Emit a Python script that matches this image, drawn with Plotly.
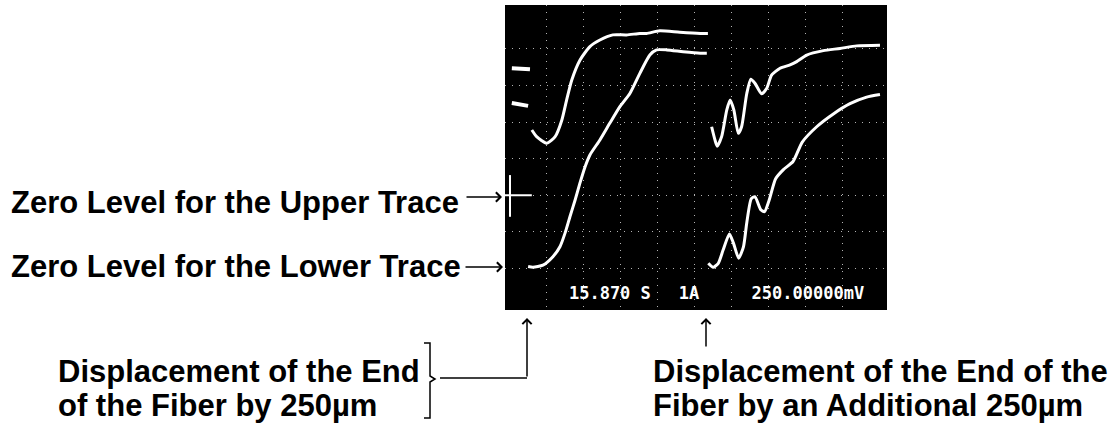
import plotly.graph_objects as go

W, H = 1120, 423

# ---- oscilloscope traces (x in horizontal divisions, y in vertical divisions) ----
UPPER_1_X = [0.59, 0.72, 0.99, 1.22, 1.40, 1.53, 1.67, 1.89, 2.16, 2.43, 2.78, 3.15, 3.51, 3.69, 4.05, 4.59, 5.14, 5.35]
UPPER_1_Y = [4.78, 4.60, 4.42, 4.60, 5.05, 5.60, 6.15, 6.69, 7.06, 7.24, 7.38, 7.38, 7.42, 7.42, 7.49, 7.45, 7.42, 7.42]

LOWER_1_X = [0.49, 0.62, 0.89, 1.16, 1.35, 1.49, 1.62, 1.76, 1.89, 2.03, 2.16, 2.43, 2.70, 2.97, 3.24, 3.51, 3.78, 3.96, 4.24, 4.68, 5.14, 5.32]
LOWER_1_Y = [1.05, 1.03, 1.09, 1.32, 1.59, 1.97, 2.41, 2.87, 3.33, 3.78, 4.10, 4.51, 4.97, 5.42, 5.78, 6.33, 6.83, 6.97, 6.97, 6.92, 6.88, 6.88]

UPPER_2_X = [5.45, 5.54, 5.60, 5.72, 5.86, 5.95, 6.05, 6.17, 6.26, 6.40, 6.51, 6.62, 6.80, 6.94, 7.07, 7.30, 7.57, 7.75, 8.02, 8.47, 8.92, 9.37, 10.0]
UPPER_2_Y = [4.87, 4.51, 4.34, 4.60, 5.33, 5.60, 5.33, 4.69, 4.87, 5.78, 6.17, 6.06, 5.77, 5.92, 6.28, 6.47, 6.56, 6.65, 6.83, 6.95, 7.01, 7.08, 7.10]

LOWER_2_X = [5.36, 5.49, 5.63, 5.76, 5.93, 6.04, 6.18, 6.31, 6.40, 6.52, 6.62, 6.78, 6.88, 7.00, 7.18, 7.39, 7.65, 7.90, 8.29, 8.74, 9.19, 9.64, 10.0]
LOWER_2_Y = [1.14, 1.03, 1.14, 1.50, 1.94, 1.69, 1.28, 1.59, 2.25, 2.90, 2.96, 2.60, 2.55, 2.85, 3.45, 3.70, 3.92, 4.45, 4.87, 5.22, 5.50, 5.68, 5.75]

# channel level markers and ground cross on the left edge of the screen
LEVEL_MARK_1_X = [0.05, 0.54]
LEVEL_MARK_1_Y = [6.47, 6.44]
LEVEL_MARK_2_X = [0.05, 0.49]
LEVEL_MARK_2_Y = [5.52, 5.44]
ZERO_H_X = [-0.30, 0.59]
ZERO_H_Y = [3.00, 3.00]
ZERO_V_X = [0.00, 0.00]
ZERO_V_Y = [2.41, 3.55]

# graticule
GRID_X = [1, 2, 3, 4, 5, 6, 7, 8, 9]
GRID_Y = [1, 2, 3, 4, 5, 6, 7]

# on-screen readout
SCOPE_TEXT = ["15.870 S", "1A", "250.00000mV"]
SCOPE_TEXT_X = [2.70, 4.84, 8.05]
SCOPE_TEXT_Y = [0.27, 0.27, 0.27]

# labels around the screen
LABELS = [
    "Zero Level for the Upper Trace",
    "Zero Level for the Lower Trace",
    "Displacement of the End",
    "of the Fiber by 250\u00b5m",
    "Displacement of the End of the",
    "Fiber by an Additional 250\u00b5m",
]


def px(x):
    return x / W


def py(y):
    return 1 - y / H


fig = go.Figure()

for xs, ys in [(UPPER_1_X, UPPER_1_Y), (LOWER_1_X, LOWER_1_Y),
               (UPPER_2_X, UPPER_2_Y), (LOWER_2_X, LOWER_2_Y)]:
    fig.add_trace(go.Scatter(x=xs, y=ys, mode="lines",
                             line=dict(color="white", width=3, shape="spline", smoothing=0.6),
                             hoverinfo="skip", showlegend=False))

for xs, ys, w in [(LEVEL_MARK_1_X, LEVEL_MARK_1_Y, 4), (LEVEL_MARK_2_X, LEVEL_MARK_2_Y, 4),
                  (ZERO_H_X, ZERO_H_Y, 2), (ZERO_V_X, ZERO_V_Y, 2)]:
    fig.add_trace(go.Scatter(x=xs, y=ys, mode="lines",
                             line=dict(color="white", width=w),
                             hoverinfo="skip", showlegend=False))

fig.add_trace(go.Scatter(x=SCOPE_TEXT_X, y=SCOPE_TEXT_Y, mode="text", text=SCOPE_TEXT,
                         textposition="middle center",
                         textfont=dict(family="DejaVu Sans Mono", size=17, color="white", weight="bold"),
                         hoverinfo="skip", showlegend=False))

label_font = dict(family="Liberation Sans, Arial, sans-serif", size=31, color="black", weight="bold")
label_pos = [(9, 202), (9, 266), (56, 371), (56, 405), (651, 371), (651, 405)]
annotations = []
for t, (lx, ly) in zip(LABELS, label_pos):
    annotations.append(dict(text=t, x=px(lx), y=py(ly), xref="paper", yref="paper",
                            xanchor="left", yanchor="middle", showarrow=False, font=label_font))

arrow_defs = [  # (tip_x, tip_y, ax, ay)
    (502, 197, -37, 0),
    (503, 267, -39, 0),
    (527, 318, 0, 60),
    (706, 318, 0, 30),
]
for tx, ty, ax, ay in arrow_defs:
    annotations.append(dict(text="", x=px(tx), y=py(ty), xref="paper", yref="paper",
                            ax=ax, ay=ay, showarrow=True, arrowhead=4, arrowsize=1.2,
                            arrowwidth=1.5, arrowcolor="black"))

shapes = [
    dict(type="path", xref="paper", yref="paper",
         path="M {} {} L {} {} L {} {} L {} {} L {} {} L {} {} L {} {}".format(
             px(424), py(343), px(430), py(343), px(430), py(376), px(435), py(379),
             px(430), py(382), px(430), py(418), px(424), py(418)),
         line=dict(color="black", width=1.5)),
    dict(type="line", xref="paper", yref="paper",
         x0=px(440), y0=py(378), x1=px(527), y1=py(378),
         line=dict(color="black", width=1.5)),
]

axis_common = dict(showticklabels=False, ticks="", zeroline=False, showline=False,
                   showgrid=True, gridcolor="rgba(210,210,210,0.85)", gridwidth=1,
                   griddash="1px,6px", fixedrange=True)

fig.update_layout(
    width=W, height=H,
    margin=dict(l=0, r=0, t=0, b=0),
    paper_bgcolor="white",
    plot_bgcolor="black",
    xaxis=dict(domain=[px(505), px(887)], range=[-0.135, 10.19], tickvals=GRID_X, **axis_common),
    yaxis=dict(domain=[py(310), py(5)], range=[-0.137, 8.197], tickvals=GRID_Y, **axis_common),
    annotations=annotations,
    shapes=shapes,
    showlegend=False,
)

fig.write_html("out.html", config={"displayModeBar": False},
               post_script="document.body.style.margin='0';")
